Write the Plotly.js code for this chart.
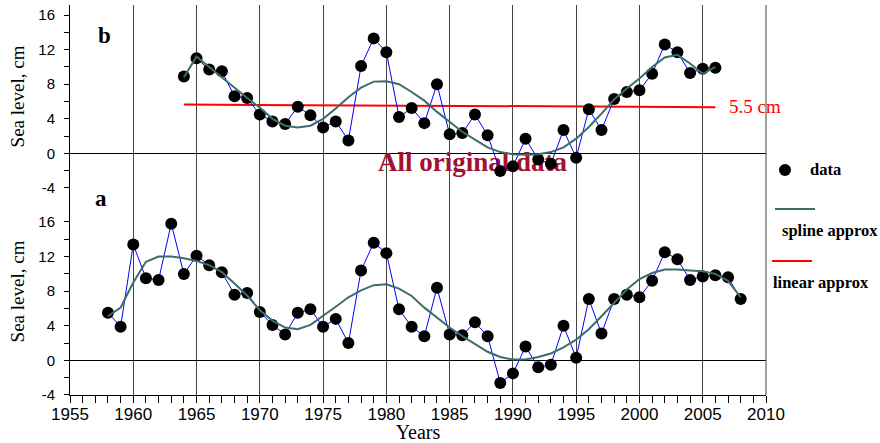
<!DOCTYPE html>
<html>
<head>
<meta charset="utf-8">
<script src="https://cdn.plot.ly/plotly-3.0.1.min.js"></script>
<style>html,body{margin:0;padding:0;background:#fff;}#chart{width:880px;height:443px;}</style>
</head>
<body>
<div id="chart"></div>
<script>
// Panel a: all years
const yearsA = [1958,1959,1960,1961,1962,1963,1964,1965,1966,1967,1968,1969,1970,1971,1972,1973,1974,1975,1976,1977,1978,1979,1980,1981,1982,1983,1984,1985,1986,1987,1988,1989,1990,1991,1992,1993,1994,1995,1996,1997,1998,1999,2000,2001,2002,2003,2004,2005,2006,2007,2008];
const seaA = [5.5,3.9,13.4,9.5,9.3,15.8,10.0,12.1,11.0,10.2,7.6,7.8,5.6,4.1,3.0,5.5,5.9,3.9,4.8,2.0,10.4,13.6,12.4,5.9,3.9,2.8,8.4,3.0,2.9,4.4,2.8,-2.6,-1.5,1.6,-0.8,-0.5,4.0,0.3,7.1,3.1,7.1,7.6,7.3,9.2,12.5,11.7,9.3,9.7,9.85,9.6,7.1];
const splineA = [5.1,6.1,9.0,11.4,12.0,12.0,11.8,11.5,11.0,10.2,8.9,7.5,5.8,4.6,3.8,3.6,4.1,5.1,6.2,7.3,8.1,8.7,8.8,8.3,7.45,6.1,4.9,3.8,2.8,1.85,1.0,0.4,0.1,0.1,0.4,0.8,1.5,2.4,3.6,5.1,6.7,8.2,9.4,10.1,10.5,10.5,10.4,10.3,10.0,9.2,7.3];

// Panel b: 1964-2006
const yearsB = [1964,1965,1966,1967,1968,1969,1970,1971,1972,1973,1974,1975,1976,1977,1978,1979,1980,1981,1982,1983,1984,1985,1986,1987,1988,1989,1990,1991,1992,1993,1994,1995,1996,1997,1998,1999,2000,2001,2002,2003,2004,2005,2006];
const seaB = [8.9,11.0,9.7,9.5,6.6,6.4,4.5,3.7,3.4,5.4,4.4,3.0,3.7,1.5,10.1,13.3,11.7,4.2,5.25,3.5,8.0,2.2,2.35,4.5,2.1,-2.05,-1.5,1.7,-0.7,-1.2,2.7,-0.5,5.1,2.7,6.3,7.1,7.3,9.2,12.6,11.7,9.3,9.8,9.9];
const splineB = [8.8,11.2,10.0,8.8,7.5,6.4,5.3,4.0,3.2,3.0,3.2,4.0,5.2,6.5,7.6,8.3,8.35,8.0,7.1,6.1,4.8,3.6,2.5,1.6,0.7,0.15,-0.1,-0.15,-0.1,0.15,0.7,1.7,3.05,4.6,6.25,7.5,8.65,10.0,11.1,11.4,10.4,9.2,10.0];
const linearYears = [1964, 2006];
const linearB = [5.65, 5.35];

const xTickVals = [1955,1960,1965,1970,1975,1980,1985,1990,1995,2000,2005,2010];
const xTickText = ['1955','1960','1965','1970','1975','1980','1985','1990','1995','2000','2005','2010'];
const yTickVals = [-4,0,4,8,12,16];
const yTickText = ['-4','0','4','8','12','16'];
const yMinorVals = [-2,2,6,10,14];

const SPLINE = '#3b6d69';
const BLUE = '#0000ff';
const RED = '#ff0000';
const GRID = '#444';
const serif = 'Liberation Serif, Times New Roman, serif';

const traces = [
  // label drawn beneath the marks
  {x:[1986.8], y:[-1.2], xaxis:'x2', yaxis:'y2', mode:'text', text:['<b>All original data</b>'],
   textfont:{family:serif, size:27, color:'#a3112f'}, hoverinfo:'skip', showlegend:false},
  {x:linearYears, y:linearB, xaxis:'x2', yaxis:'y2', mode:'lines', line:{color:RED, width:2}, name:'linear approx', showlegend:false},
  {x:yearsB, y:seaB, xaxis:'x2', yaxis:'y2', mode:'lines+markers', line:{color:BLUE, width:1},
   marker:{color:'#000', size:12}, name:'data', showlegend:false},
  {x:yearsB, y:splineB, xaxis:'x2', yaxis:'y2', mode:'lines', line:{color:SPLINE, width:2}, name:'spline approx', showlegend:false},
  {x:yearsA, y:seaA, xaxis:'x', yaxis:'y', mode:'lines+markers', line:{color:BLUE, width:1},
   marker:{color:'#000', size:12}, name:'data', showlegend:false},
  {x:yearsA, y:splineA, xaxis:'x', yaxis:'y', mode:'lines', line:{color:SPLINE, width:2}, name:'spline approx', showlegend:false}
];

const split = 0.5308;
const yCommon = {
  tickvals: yTickVals, ticktext: yTickText, ticks:'outside', ticklen:5, tickcolor:'#000',
  ticklabelstandoff:6,
  showline:true, linecolor:'#000', linewidth:1, showgrid:false,
  zeroline:true, zerolinecolor:'#000', zerolinewidth:1,
  tickfont:{family:'Liberation Sans, Arial, sans-serif', size:15, color:'#000'},
  minor:{tickvals: yMinorVals, ticks:'outside', ticklen:5, tickcolor:'#000', showgrid:false},
  fixedrange:true
};

const layout = {
  width:880, height:443,
  margin:{l:70, r:114, t:5, b:48},
  paper_bgcolor:'#fff', plot_bgcolor:'#fff',
  showlegend:false,
  xaxis:{
    domain:[0,1], anchor:'y', range:[1955,2010], tickvals:xTickVals, ticktext:xTickText,
    ticks:'outside', ticklen:7, tickcolor:'#000', ticklabelstandoff:-3,
    showline:true, linecolor:'#000', linewidth:1,
    showgrid:true, gridcolor:GRID, gridwidth:1, zeroline:false,
    minor:{dtick:1, ticks:'outside', ticklen:7, tickcolor:'#000', showgrid:false},
    tickfont:{family:'Liberation Sans Narrow, Arial Narrow, sans-serif', size:17, color:'#000'},
    title:{text:'Years', font:{family:serif, size:20, color:'#000'}, standoff:0}
  },
  xaxis2:{
    domain:[0,1], anchor:'y2', matches:'x', range:[1955,2010], tickvals:xTickVals,
    showticklabels:false, ticks:'', showline:false,
    showgrid:true, gridcolor:GRID, gridwidth:1, zeroline:false
  },
  yaxis:Object.assign({}, yCommon, {domain:[0, split], range:[-4, 19.93], anchor:'x',
    title:{text:'Sea level, cm', font:{family:serif, size:19, color:'#000'}, standoff:8}}),
  yaxis2:Object.assign({}, yCommon, {domain:[split, 1], range:[-4, 17.16], anchor:'x2',
    title:{text:'Sea level, cm', font:{family:serif, size:19, color:'#000'}, standoff:8}}),
  shapes:[
    {type:'line', xref:'paper', yref:'paper', x0:1, x1:1, y0:0, y1:1, line:{color:GRID, width:1}},
    // legend symbols
    {type:'circle', xref:'paper', yref:'paper', x0:1.0273-0.0086, x1:1.0273+0.0086, y0:0.5769-0.0154, y1:0.5769+0.0154, fillcolor:'#000', line:{color:'#000', width:0}},
    {type:'line', xref:'paper', yref:'paper', x0:1.0129, x1:1.0704, y0:0.477, y1:0.477, line:{color:SPLINE, width:2}},
    {type:'line', xref:'paper', yref:'paper', x0:1.0086, x1:1.0661, y0:0.3436, y1:0.3436, line:{color:RED, width:2}}
  ],
  annotations:[
    {xref:'paper', yref:'paper', x:0.0374, y:0.959, text:'<b>b</b>', showarrow:false, font:{family:serif, size:23, color:'#000'}},
    {xref:'paper', yref:'paper', x:0.033, y:0.5026, text:'<b>a</b>', showarrow:false, font:{family:serif, size:23, color:'#000'}},
    {xref:'x2', yref:'y2', x:2006.9, y:5.43, xanchor:'left', text:'5.5 cm', showarrow:false, font:{family:serif, size:19, color:RED}},
    {xref:'paper', yref:'paper', x:1.0603, y:0.577, xanchor:'left', text:'<b>data</b>', showarrow:false, font:{family:serif, size:16.5, color:'#000'}},
    {xref:'paper', yref:'paper', x:1.0201, y:0.423, xanchor:'left', text:'<b>spline approx</b>', showarrow:false, font:{family:serif, size:16.5, color:'#000'}},
    {xref:'paper', yref:'paper', x:1.0072, y:0.259, xanchor:'left', text:'<b>linear approx</b>', showarrow:false, font:{family:serif, size:16.5, color:'#000'}}
  ]
};

Plotly.newPlot('chart', traces, layout, {staticPlot:true, displayModeBar:false});
</script>
</body>
</html>
